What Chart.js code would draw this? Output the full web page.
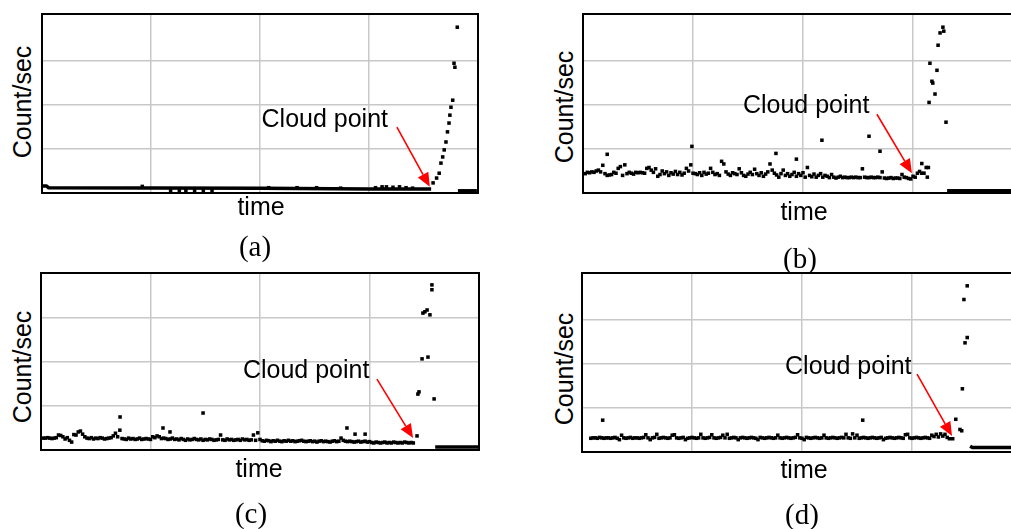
<!DOCTYPE html>
<html>
<head>
<meta charset="utf-8">
<script src="https://cdn.jsdelivr.net/npm/chart.js@4.4.1/dist/chart.umd.min.js"></script>
<style>
html, body { margin: 0; padding: 0; background: #fff; width: 1011px; height: 529px; overflow: hidden; }
canvas { position: absolute; }
.lbl { position: absolute; font-family: 'Liberation Sans', Arial, sans-serif; font-size: 25px; line-height: 1; white-space: nowrap; color: #000; transform: translate(-50%, -50%); }
.ylbl { transform: translate(-50%, -50%) rotate(-90deg); }
.cap { position: absolute; font-family: 'Liberation Serif', 'Times New Roman', serif; font-size: 29px; line-height: 1; white-space: nowrap; color: #000; transform: translate(-50%, -50%); }
</style>
</head>
<body>
<canvas id="chartA"></canvas>
<canvas id="chartB"></canvas>
<canvas id="chartC"></canvas>
<canvas id="chartD"></canvas>

<div class="lbl ylbl" style="left:22px;top:102px">Count/sec</div>
<div class="lbl ylbl" style="left:564px;top:107px">Count/sec</div>
<div class="lbl ylbl" style="left:22px;top:367px">Count/sec</div>
<div class="lbl ylbl" style="left:564px;top:369px">Count/sec</div>

<div class="lbl" style="left:261px;top:206px">time</div>
<div class="lbl" style="left:804px;top:211px">time</div>
<div class="lbl" style="left:259px;top:468px">time</div>
<div class="lbl" style="left:804px;top:469px">time</div>

<div class="cap" style="left:255px;top:246px">(a)</div>
<div class="cap" style="left:800px;top:258px">(b)</div>
<div class="cap" style="left:251px;top:513px">(c)</div>
<div class="cap" style="left:802px;top:514px">(d)</div>

<script>
// time axis = sample number, count axis = counts/sec (no tick labels in the figure)
const xGrid = [50, 100, 150];
const yGrid = [100, 200, 300];

// ---- panel (a) ----
const aBaseline = [[0, 16], [2, 16], [3, 12], [100, 11], [150, 9], [178.5, 9]];
const aDots = [[46, 15], [59, 6], [63, 6], [66, 6], [70, 6], [74, 6], [78, 6],
  [104, 12], [117, 12], [126, 12], [137, 11], [153, 12], [156, 14], [158, 14],
  [161, 13], [164, 14], [167, 12], [170, 11]];
const aRise = [[179.4, 23], [181, 34], [182.2, 45], [183, 68], [183.8, 82], [184.5, 98],
  [185.3, 116], [186, 139], [186.7, 159], [187.1, 177], [187.6, 195], [188.4, 211],
  [189, 295], [189.4, 286], [190.5, 377]];
const aTail = [[190.8, 5], [199.5, 5]];

// ---- panel (b) ----
const bStart = 1;
const bNoise = [44, 47, 46, 48, 47,
  50, 52, 48, 63, 44, 40, 41,
  42, 47, 45, 56, 60, 40,
  64, 44, 47, 45, 43, 47, 46,
  47, 46, 45, 56, 58, 52, 47,
  55, 38, 42, 50, 44, 48, 40, 46,
  43, 49, 42, 47, 41, 45, 56,
  50, 64, 45, 44, 42, 46, 40, 47,
  43, 45, 56, 47, 42, 44, 40, 72,
  66, 48, 43, 40, 46, 44, 42,
  55, 46, 40, 38, 43, 47, 42, 54,
  44, 40, 46, 38, 43, 48, 66, 52,
  45, 41, 36, 44, 52, 40, 44, 38,
  42, 47, 38, 44, 40, 46, 36, 58,
  40, 37, 43, 36, 40, 44, 36, 40,
  38, 35, 42, 36, 34, 36, 38, 35,
  36, 35, 35, 36, 35, 36, 35, 35,
  55, 36, 35, 35, 36, 35, 35, 36,
  35, 48, 34, 33, 34, 35, 33, 34,
  34, 33, 42, 36, 35, 33, 32, 38,
  36, 45, 49, 67, 45, 58];
const bSpikes = [[11, 88], [49.5, 106], [87.7, 90], [97, 77], [108.6, 120], [130, 129],
  [135, 95], [156.5, 36], [157, 58], [154, 45]];
const bPeak = [[157.3, 206], [157.7, 295], [158.6, 254], [159, 250], [160, 225], [160.9, 279],
  [161.4, 336], [162.3, 364], [163.6, 377], [164, 368], [165, 161]];
const bTail = [[165.5, 5], [200, 5]];

// ---- panel (c) ----
const cStart = 1;
const cNoise = [27, 27, 28, 27, 26, 27, 28, 34, 33, 30,
  25, 28, 22, 18, 35, 34, 41, 43, 36, 30,
  27, 26, 28, 25, 27, 26, 28, 27, 25, 26, 27, 28,
  32, 38, 30, 45,
  26, 25, 24, 27, 25, 26, 24, 25, 27, 24, 25, 26, 25, 24,
  30, 28, 32, 30, 26, 27, 26, 24, 25, 27,
  24, 25, 23, 26, 24, 22, 25, 23, 24, 26, 24, 23, 25, 22, 24, 23, 25, 24, 22, 23,
  24, 34, 23, 22, 25, 23, 24, 22,
  23, 24, 22, 25, 23, 24, 22, 23, 34, 22, 39, 24,
  21, 20, 22, 21, 19, 21, 20, 22, 20, 19, 21, 20, 22, 20, 21, 19, 20, 21, 22, 20,
  19, 20, 21, 19, 20, 18, 20, 21, 19, 20, 19, 18, 20, 21, 19, 20, 27,
  22, 20, 19,
  20, 19, 18, 19, 20, 18, 19, 20, 18, 19,
  17, 16, 18, 17, 16, 17, 18, 16, 17, 16, 18, 17, 16, 17, 16, 18, 17, 16, 17, 16];
const cSpikes = [[36.1, 75], [55.7, 50], [58.9, 41], [74, 84], [139.7, 50], [143.4, 36], [148, 36]];
const cPeak = [[171.7, 32], [172.1, 127], [172.6, 132], [174, 207], [174.4, 311], [175.3, 314],
  [176.3, 318], [176.7, 211], [177.6, 307], [178.5, 375], [178.5, 364], [179.5, 116]];
const cTail = [[180, 7], [199.8, 7]];

// ---- panel (d) ----
const dStart = 4;
const dNoise = [31, 32, 32, 31, 33, 32, 31, 32, 32, 31,
  32, 33, 31, 28, 38, 32, 31, 32, 33, 31,
  32, 32, 31, 32, 33, 39, 32, 28, 32, 33,
  40, 31, 32, 33, 32, 31, 32, 38, 39, 32,
  31, 32, 33, 28, 31, 32, 33, 32, 31, 32,
  40, 32, 31, 32, 33, 39, 32, 31, 32, 33,
  38, 32, 40, 31, 32, 33, 32, 28, 32, 33,
  32, 31, 32, 33, 32, 31, 28, 33, 32, 31,
  32, 33, 32, 31, 32, 38, 32, 31, 32, 33,
  32, 31, 32, 33, 39, 32, 31, 28, 33, 32,
  31, 32, 33, 32, 31, 32, 38, 32, 31, 32,
  33, 32, 31, 32, 33, 32, 40, 32, 31, 41,
  32, 38, 31, 32, 33, 32, 31, 32, 33, 32,
  31, 32, 33, 28, 31, 32, 33, 32, 31, 32,
  33, 32, 31, 39, 40, 32, 31, 32, 33, 32,
  31, 32, 33, 32, 31, 38, 35, 40, 34, 41,
  36, 40, 33, 30];
const dSpikes = [[9.4, 72], [127.6, 72]];
const dPeak = [[168.5, 30], [169.9, 74], [171.8, 51], [172.6, 48], [172.9, 143], [173.6, 345],
  [174.1, 247], [175.1, 259], [175.1, 376]];
const dTail = [[176.4, 13], [177.5, 10], [200, 10]];

function pts(pairs) { return pairs.map(p => ({ x: p[0], y: p[1] })); }
function series(start, ys) { return ys.map((v, k) => ({ x: start + k, y: v })); }

// black frame round the plot area
const framePlugin = {
  id: 'frame',
  beforeDatasetsDraw(chart) {
    const a = chart.chartArea, ctx = chart.ctx;
    ctx.save();
    ctx.strokeStyle = '#000';
    ctx.lineWidth = 2;
    ctx.strokeRect(a.left, a.top, a.right - a.left, a.bottom - a.top);
    ctx.restore();
  }
};

// "Cloud point" label with red arrow
const notePlugin = {
  id: 'cloudNote',
  afterDatasetsDraw(chart, args, o) {
    const xs = chart.scales.x, ys = chart.scales.y, ctx = chart.ctx;
    const tx = xs.getPixelForValue(o.tx), ty = ys.getPixelForValue(o.ty);
    const sx = xs.getPixelForValue(o.sx), sy = ys.getPixelForValue(o.sy);
    const ex = xs.getPixelForValue(o.ex), ey = ys.getPixelForValue(o.ey);
    ctx.save();
    ctx.font = '25px "Liberation Sans", Arial, sans-serif';
    ctx.fillStyle = '#000';
    ctx.textAlign = 'left';
    ctx.textBaseline = 'alphabetic';
    ctx.fillText('Cloud point', tx, ty);
    const ang = Math.atan2(ey - sy, ex - sx);
    const hl = 14, hw = 6;
    const bx = ex - hl * Math.cos(ang), by = ey - hl * Math.sin(ang);
    ctx.strokeStyle = '#ff0000';
    ctx.fillStyle = '#ff0000';
    ctx.lineWidth = 1.6;
    ctx.beginPath();
    ctx.moveTo(sx, sy);
    ctx.lineTo(bx, by);
    ctx.stroke();
    ctx.beginPath();
    ctx.moveTo(ex, ey);
    ctx.lineTo(bx - hw * Math.sin(ang), by + hw * Math.cos(ang));
    ctx.lineTo(bx + hw * Math.sin(ang), by - hw * Math.cos(ang));
    ctx.closePath();
    ctx.fill();
    ctx.restore();
  }
};

function makePanel(id, box, yMax, lines, dots, note) {
  const pad = 4;
  const cv = document.getElementById(id);
  cv.width = box.w + 2 * pad;
  cv.height = box.h + 2 * pad;
  cv.style.left = (box.left - pad) + 'px';
  cv.style.top = (box.top - pad) + 'px';

  const datasets = lines.map(l => ({
    type: 'line', data: pts(l), borderColor: '#000', borderWidth: 3.5,
    pointRadius: 0, fill: false, tension: 0
  }));
  datasets.push({
    type: 'scatter', data: dots, pointStyle: 'rect', pointRadius: 2.5,
    pointBorderWidth: 0, backgroundColor: '#000', borderColor: '#000'
  });

  const gridOpts = { color: '#c8c8c8', lineWidth: 1.5, drawTicks: false };
  new Chart(cv, {
    type: 'scatter',
    data: { datasets: datasets },
    options: {
      responsive: false,
      animation: false,
      events: [],
      layout: { padding: pad },
      plugins: { legend: { display: false }, tooltip: { enabled: false }, cloudNote: note },
      scales: {
        x: {
          type: 'linear', min: 0, max: 200,
          afterBuildTicks: s => { s.ticks = xGrid.map(v => ({ value: v })); },
          ticks: { display: false }, grid: gridOpts, border: { display: false }
        },
        y: {
          type: 'linear', min: 0, max: yMax,
          afterBuildTicks: s => { s.ticks = yGrid.map(v => ({ value: v })); },
          ticks: { display: false }, grid: gridOpts, border: { display: false }
        }
      }
    },
    plugins: [framePlugin, notePlugin]
  });
}

makePanel('chartA', { left: 42, top: 14, w: 436, h: 179 }, 407,
  [aBaseline, aTail], pts(aDots).concat(pts(aRise)),
  { tx: 100.7, ty: 150, sx: 162.8, sy: 150, ex: 177.9, ey: 14 });

makePanel('chartB', { left: 583, top: 14, w: 440, h: 179 }, 407,
  [bTail], series(bStart, bNoise).concat(pts(bSpikes), pts(bPeak)),
  { tx: 72.7, ty: 181, sx: 133.6, sy: 179, ex: 149.5, ey: 45 });

makePanel('chartC', { left: 41, top: 273, w: 438, h: 177 }, 402,
  [cTail], series(cStart, cNoise).concat(pts(cSpikes), pts(cPeak)),
  { tx: 92.2, ty: 164, sx: 153.4, sy: 161, ex: 169.9, ey: 27 });

makePanel('chartD', { left: 582, top: 273, w: 440, h: 179 }, 405,
  [dTail], series(dStart, dNoise).concat(pts(dSpikes), pts(dPeak)),
  { tx: 92.3, ty: 176, sx: 152.3, sy: 176, ex: 168.2, ey: 36 });
</script>
</body>
</html>
